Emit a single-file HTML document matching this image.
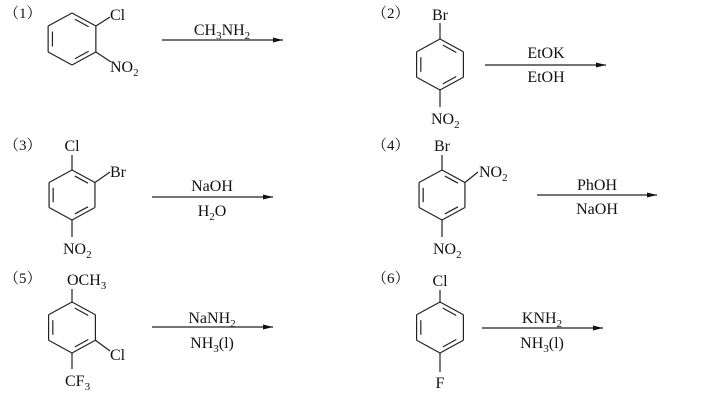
<!DOCTYPE html>
<html><head><meta charset="utf-8"><style>
html,body{margin:0;padding:0;background:#fff;}
svg{display:block;}
text{font-family:"Liberation Serif","Noto Serif CJK SC",serif;font-size:16px;fill:#111;}
.lb{font-family:"Liberation Serif","Noto Serif CJK SC",serif;font-size:15px;}
</style></head><body>
<svg id="s" width="709" height="403" viewBox="0 0 709 403" xmlns="http://www.w3.org/2000/svg">
<defs><marker id="ah" markerWidth="10" markerHeight="6" refX="10" refY="3" orient="auto" markerUnits="userSpaceOnUse"><path d="M0,0.5 L10,3 L0,5.5z" fill="#111"/></marker></defs>
<g stroke="#222" stroke-width="1.2" fill="none" id="g"></g>
<text class="lb" x="4" y="18">（1）</text>
<text class="lb" x="372" y="18">（2）</text>
<text class="lb" x="4" y="150">（3）</text>
<text class="lb" x="372" y="150">（4）</text>
<text class="lb" x="4" y="283">（5）</text>
<text class="lb" x="372" y="283">（6）</text>
<text x="110" y="20">Cl</text>
<text x="110" y="72">NO<tspan font-size="11" dy="4">2</tspan></text>
<text x="222" y="35" text-anchor="middle">CH<tspan font-size="11" dy="4">3</tspan><tspan dy="-4">NH</tspan><tspan font-size="11" dy="4">2</tspan></text>
<text x="440" y="20" text-anchor="middle">Br</text>
<text x="431" y="124">NO<tspan font-size="11" dy="4">2</tspan></text>
<text x="546" y="58" text-anchor="middle">EtOK</text>
<text x="546" y="82" text-anchor="middle">EtOH</text>
<text x="72" y="151" text-anchor="middle">Cl</text>
<text x="110" y="177">Br</text>
<text x="63" y="254">NO<tspan font-size="11" dy="4">2</tspan></text>
<text x="212" y="191" text-anchor="middle">NaOH</text>
<text x="212" y="216" text-anchor="middle">H<tspan font-size="11" dy="4">2</tspan><tspan dy="-4">O</tspan></text>
<text x="442" y="151" text-anchor="middle">Br</text>
<text x="479" y="177">NO<tspan font-size="11" dy="4">2</tspan></text>
<text x="433" y="254">NO<tspan font-size="11" dy="4">2</tspan></text>
<text x="597" y="190" text-anchor="middle">PhOH</text>
<text x="597" y="214" text-anchor="middle">NaOH</text>
<text x="67" y="285">OCH<tspan font-size="11" dy="4">3</tspan></text>
<text x="110" y="360">Cl</text>
<text x="65" y="386">CF<tspan font-size="11" dy="4">3</tspan></text>
<text x="212" y="323" text-anchor="middle">NaNH<tspan font-size="11" dy="4">2</tspan></text>
<text x="212" y="348" text-anchor="middle">NH<tspan font-size="11" dy="4">3</tspan><tspan dy="-4">(l)</tspan></text>
<text x="440" y="286" text-anchor="middle">Cl</text>
<text x="440" y="388" text-anchor="middle">F</text>
<text x="542" y="323" text-anchor="middle">KNH<tspan font-size="11" dy="4">2</tspan></text>
<text x="542" y="348" text-anchor="middle">NH<tspan font-size="11" dy="4">3</tspan><tspan dy="-4">(l)</tspan></text>
</svg>
<script>
var g=document.getElementById('g'),NS="http://www.w3.org/2000/svg";
function L(a,b,c,d,m){var l=document.createElementNS(NS,'line');l.setAttribute('x1',a);l.setAttribute('y1',b);l.setAttribute('x2',c);l.setAttribute('y2',d);if(m)l.setAttribute('marker-end','url(#ah)');g.appendChild(l);}
function ring(cx,top,bot){var h=(bot-top),r=h/2,cy=top+r,w=r*0.866*1.06;
var v=[[cx,top],[cx+w,cy-r/2],[cx+w,cy+r/2],[cx,bot],[cx-w,cy+r/2],[cx-w,cy-r/2]];
for(var i=0;i<6;i++){var p=v[i],q=v[(i+1)%6];L(p[0],p[1],q[0],q[1]);}
[[0,1],[2,3],[4,5]].forEach(function(e){var p=v[e[0]],q=v[e[1]];var k=0.82,s=0.15;
function inn(P){return [P[0]+(cx-P[0])*(1-k),P[1]+(cy-P[1])*(1-k)];}
var a=inn(p),b=inn(q);var ax=a[0]+(b[0]-a[0])*s,ay=a[1]+(b[1]-a[1])*s,bx=b[0]+(a[0]-b[0])*s,by=b[1]+(a[1]-b[1])*s;L(ax,ay,bx,by);});
return v;}
var v=ring(72,13,65);L(v[1][0],v[1][1],110,17);L(v[2][0],v[2][1],111,62);L(162,40,283,40,1);
v=ring(440,39,90);L(440,39,440,23);L(440,90,440,107);L(485,65,606,65,1);
v=ring(72,170,220);L(72,170,72,155);L(v[1][0],v[1][1],110,172);L(72,220,72,237);L(152,197,273,197,1);
v=ring(442,170,220);L(442,170,442,155);L(v[1][0],v[1][1],478,172);L(442,220,442,237);L(537,195,657,195,1);
v=ring(72,302,353);L(72,302,72,289);L(v[2][0],v[2][1],110,351);L(72,353,72,369);L(152,327,273,327,1);
v=ring(440,302,353);L(440,302,440,290);L(440,353,440,372);L(482,328,603,328,1);
</script>
</body></html>
